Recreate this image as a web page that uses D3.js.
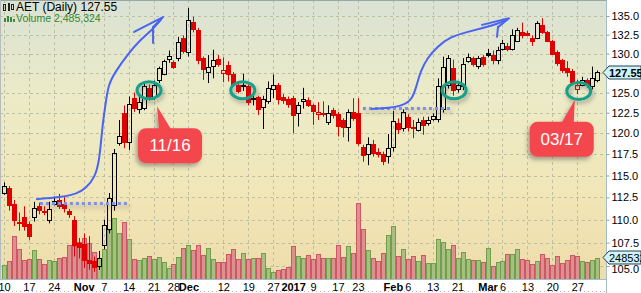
<!DOCTYPE html>
<html>
<head>
<meta charset="utf-8">
<script src="https://cdn.jsdelivr.net/npm/d3@7"></script>
<style>
body { margin: 0; background: #fff; }
svg { display: block; font-family: Arial, "Liberation Sans", sans-serif; }
</style>
</head>
<body>
<div id="chart"></div>
<script>
// AET daily, Oct 10 2016 .. Mar 31 2017, one entry per trading day
var open = [113.0,113.6,111.8,109.8,110.3,109.5,110.3,111.5,111.0,110.0,
	111.8,112.2,111.8,111.0,110.0,107.5,107.4,105.6,105.5,105.0,
	107.2,109.0,111.6,118.8,122.5,118.9,124.3,123.0,123.1,125.6,
	124.4,126.6,127.4,129.3,128.9,129.4,132.0,130.2,134.2,133.1,
	129.4,127.6,128.4,129.3,127.5,128.5,127.4,126.0,125.9,125.8,
	124.3,124.4,123.2,124.0,125.5,126.0,124.4,124.2,124.3,122.4,
	123.9,124.1,123.4,122.3,122.5,121.4,122.8,122.3,121.6,120.8,
	122.6,122.4,118.3,117.5,118.7,117.8,117.5,117.3,118.3,121.2,
	120.6,122.0,120.8,120.4,121.6,121.2,121.7,121.7,123.0,126.0,
	128.1,125.4,125.8,129.0,129.4,128.4,129.5,130.1,129.8,129.2,
	130.6,131.0,130.6,131.7,132.9,132.7,132.0,132.1,133.8,132.9,
	131.6,130.2,129.1,128.1,127.7,125.4,126.0,126.6,125.8,126.6];
var high = [114.2,113.8,112.2,110.8,111.5,109.8,112.0,111.9,111.5,112.0,
	112.6,112.9,112.6,111.2,110.4,108.0,108.5,108.2,106.0,106.6,
	110.0,113.0,118.1,121.6,123.4,124.5,125.0,124.6,126.2,126.0,
	126.5,128.3,129.2,130.4,129.1,132.2,132.4,136.1,134.9,133.4,
	129.6,129.8,130.5,129.8,129.5,129.0,127.6,126.2,127.4,126.0,
	124.8,124.6,124.6,126.4,127.3,126.2,124.8,124.5,124.6,123.8,
	125.6,124.4,123.6,123.8,123.9,123.4,123.1,122.6,121.8,122.9,
	124.3,124.3,118.6,119.5,119.2,118.2,117.8,119.9,122.7,121.8,
	122.9,122.3,121.6,121.8,122.0,122.0,122.4,126.8,129.6,129.8,
	129.2,126.4,129.4,130.0,129.6,129.7,129.8,130.6,130.4,130.9,
	131.8,131.4,133.2,133.4,134.1,133.0,132.4,134.3,134.7,133.0,
	131.8,130.4,129.3,129.0,128.0,126.6,127.0,126.8,128.3,127.8];
var low = [112.8,111.0,109.3,108.8,108.8,107.8,109.8,110.6,110.5,109.6,
	111.6,111.2,110.8,110.2,106.0,105.8,104.8,104.6,104.4,104.6,
	106.8,108.5,111.0,118.5,118.2,118.0,122.6,122.4,122.8,124.0,
	124.1,126.2,127.2,128.8,128.0,129.0,130.0,129.6,132.8,128.6,
	126.6,126.2,126.8,128.3,126.3,126.4,125.8,124.9,125.2,123.4,
	123.4,122.2,120.5,123.6,124.3,123.5,123.6,123.1,120.0,120.8,
	123.0,123.2,121.0,121.6,122.0,121.0,121.8,119.6,119.5,119.0,
	121.5,118.5,116.6,116.2,117.2,117.1,116.2,116.4,117.8,119.9,
	120.2,120.2,119.4,120.2,119.8,120.9,121.5,121.3,122.5,125.5,
	124.6,125.0,125.3,128.8,128.3,128.0,128.3,129.5,128.6,128.6,
	130.4,130.3,130.4,131.5,132.0,132.3,131.0,131.9,132.6,131.5,
	129.8,128.4,127.5,127.0,125.9,124.8,125.8,125.6,125.4,126.3];
var close = [113.8,111.6,110.0,109.6,109.3,108.2,111.3,111.1,110.9,111.2,
	112.1,111.5,111.3,110.6,107.2,107.0,105.6,105.3,104.9,105.8,
	109.4,112.4,117.6,119.6,118.9,123.6,123.1,123.8,125.8,124.4,
	126.0,128.1,129.0,129.7,128.2,131.5,130.3,134.5,133.2,129.2,
	128.0,128.2,129.2,128.6,127.9,127.4,126.1,125.2,125.8,123.8,
	124.2,123.0,124.2,125.6,126.0,124.2,124.1,123.6,122.2,123.5,
	124.2,123.5,122.7,122.6,122.3,122.4,122.2,120.9,120.8,122.6,
	121.9,118.8,117.4,118.7,117.6,117.5,116.7,118.2,121.5,120.5,
	122.6,120.7,120.6,121.4,121.0,121.6,122.1,125.8,128.2,129.4,
	125.3,126.0,128.6,129.6,128.6,129.4,128.6,129.8,129.2,130.5,
	131.4,130.6,132.4,133.1,132.5,132.4,131.7,134.0,132.8,131.7,
	130.0,128.8,127.9,127.6,126.3,126.0,126.6,125.9,126.8,127.55];
// volume, millions of shares
var volume = [1.7,2.2,5.2,3.6,2.3,2.4,3.5,2.4,1.8,2.3,
	2.2,2.5,2.7,4.1,4.0,4.5,5.0,4.4,3.3,2.6,
	3.6,5.9,7.4,5.6,6.9,4.9,2.4,2.3,2.5,2.8,
	2.4,2.7,2.1,1.3,1.8,2.7,3.8,4.1,3.5,4.1,
	2.9,3.8,2.4,2.0,2.0,3.0,3.6,2.4,3.2,2.4,
	2.6,2.6,3.2,1.3,0.9,1.1,1.2,1.5,4.0,2.8,
	2.5,2.85,2.4,3.0,2.6,2.6,2.6,4.1,2.7,4.0,
	3.2,9.2,6.1,3.5,2.5,2.2,3.2,5.3,6.4,2.8,
	3.6,2.4,2.8,2.2,2.9,1.9,1.9,4.9,4.5,3.6,
	4.1,2.6,3.3,2.4,2.25,2.25,2.1,3.7,1.6,2.0,
	2.2,3.0,3.0,3.6,2.4,2.25,1.8,2.2,3.0,2.6,
	1.65,2.8,1.9,2.3,2.85,2.8,2.2,2.0,2.25,2.485324];

var tickDays = [0,5,10,16,20,25,30,34,37,44,49,54,58,62,67,71,78,81,86,91,97,100,105,110,115];
var tickLabels = ["10","17","24","Nov","7","14","21","28","Dec","12","19","27","2017","9","17","23","Feb","6","13","21","Mar","6","13","20","27"];
var boldLabels = ["Nov","Dec","2017","Feb","Mar"];
var priceTicks = [105,107.5,110,112.5,115,117.5,120,122.5,125,127.5,130,132.5,135];

// hand drawn marks on the chart, in (day index, price)
var arrowA = [[6.6,112.3],[11.2,112.5],[14.6,112.9],[16.3,113.45],[18.3,114.8],[19.1,116.8],[19.5,119.2],[19.9,121.6],[20.3,123.2],[20.9,126.0],[22.3,127.6],[24.7,129.8],[27.3,131.8],[29.7,133.1],[31.5,134.5]];
var arrowAHead = [[26.1,132.85],[31.9,134.86],[29.9,133.5],[29.9,131.4]];
var arrowB = [[73.8,122.95],[77.4,123.1],[79.4,123.3],[80.8,123.7],[81.9,124.2],[82.9,126.1],[83.5,127.6],[84.9,129.4],[86.9,130.9],[89.5,132.2],[92.9,132.85],[96.1,133.4],[98.9,133.9],[100.9,134.5]];
var arrowBHead = [[95.9,133.8],[101.3,134.7],[99.1,133.5],[98.9,132.2]];
var baseLines = [[[7.2,111.8],[24.9,111.8]], [[72.0,123.0],[89.5,123.0]]];
var circled = [[29.1,125.3],[47.9,125.3],[90.3,125.3],[115.3,125.2]];
var callouts = [{text: "11/16", at: [30.7,123.3], dx: -19}, {text: "03/17", at: [114.5,124.1], dx: -45}];

var width = 641, height = 293;
var plotRight = 606, plotBottom = 279;

var x = d3.scaleLinear().domain([0, 119]).range([4, 597.2]);
var y = d3.scaleLog().domain([105, 135]).range([266, 16]);
var yv = d3.scaleLinear().domain([0, d3.max(volume)]).range([plotBottom, 203]);
var px = function(d){ return [x(d[0]), y(d[1])]; };

var svg = d3.select('#chart').append('svg')
	.attr('width', width)
	.attr('height', height);
var defs = svg.append('defs');
var grad = defs.append('linearGradient').attr('id', 'bg').attr('x1', 0).attr('y1', 0).attr('x2', 0).attr('y2', 1);
grad.append('stop').attr('offset', 0).attr('stop-color', '#dae2d4');
grad.append('stop').attr('offset', 0.35).attr('stop-color', '#ecebc7');
grad.append('stop').attr('offset', 0.7).attr('stop-color', '#f1e6b7');
grad.append('stop').attr('offset', 1).attr('stop-color', '#eedcaa');
defs.append('clipPath').attr('id', 'clip').append('rect')
	.attr('x', 0).attr('y', 1).attr('width', plotRight).attr('height', plotBottom - 1);
// shadows in user space so flat lines keep their filter region
function dropShadow(id, dx, dy){
	defs.append('filter').attr('id', id).attr('filterUnits', 'userSpaceOnUse')
		.attr('x', 0).attr('y', 0).attr('width', width).attr('height', height)
		.append('feDropShadow').attr('dx', dx).attr('dy', dy).attr('stdDeviation', 2)
		.attr('flood-color', '#444').attr('flood-opacity', 0.45);
}
dropShadow('shadow', 1.5, 3);
dropShadow('shadowL', -2, 3);

// plot background
svg.append('rect').attr('x', 0).attr('y', 1).attr('width', plotRight).attr('height', plotBottom - 1).attr('fill', 'url(#bg)');

// gridlines
svg.append('g').attr('class', 'grid')
	.call(d3.axisRight(y).tickValues(priceTicks).tickSize(plotRight).tickFormat(''));
svg.append('g').attr('class', 'grid')
	.attr('transform', 'translate(0,' + plotBottom + ')')
	.call(d3.axisBottom(x).tickValues(tickDays).tickSize(-(plotBottom - 1)).tickFormat(''));
svg.selectAll('.grid .domain').remove();
svg.selectAll('.grid line').attr('stroke', '#bfbfa4').attr('stroke-dasharray', '3,3').attr('shape-rendering', 'crispEdges');

var plot = svg.append('g').attr('clip-path', 'url(#clip)');
var idx = d3.range(close.length);
var up = function(i){ return i == 0 ? true : close[i] >= close[i - 1]; };
var cx = function(i){ return Math.round(x(i)); };

// volume
plot.append('g').selectAll('rect').data(idx).enter().append('rect')
	.attr('x', function(i){ return cx(i) - 1.5; })
	.attr('width', 4)
	.attr('y', function(i){ return Math.round(yv(volume[i])) + 0.5; })
	.attr('height', function(i){ return plotBottom - Math.round(yv(volume[i])); })
	.attr('fill', function(i){ return up(i) ? '#a8be82' : '#dc9090'; })
	.attr('stroke', function(i){ return up(i) ? '#71a04b' : '#cd5864'; })
	.attr('stroke-width', 1);

// candles
var color = function(i){ return up(i) ? '#000' : '#e00000'; };
var bodyTop = function(i){ return Math.round(y(Math.max(open[i], close[i]))); };
var bodyBot = function(i){ return Math.max(bodyTop(i) + 1, Math.round(y(Math.min(open[i], close[i])))); };
var candles = plot.append('g').selectAll('g').data(idx).enter().append('g');
candles.append('line')
	.attr('x1', function(i){ return cx(i) + 0.5; }).attr('x2', function(i){ return cx(i) + 0.5; })
	.attr('y1', function(i){ return y(high[i]); }).attr('y2', bodyTop)
	.attr('stroke', color);
candles.append('line')
	.attr('x1', function(i){ return cx(i) + 0.5; }).attr('x2', function(i){ return cx(i) + 0.5; })
	.attr('y1', bodyBot).attr('y2', function(i){ return y(low[i]); })
	.attr('stroke', color);
candles.append('rect')
	.attr('x', function(i){ return close[i] > open[i] ? cx(i) - 1.5 : cx(i) - 2; })
	.attr('width', function(i){ return close[i] > open[i] ? 4 : 5; })
	.attr('y', function(i){ return close[i] > open[i] ? bodyTop(i) + 0.5 : bodyTop(i); })
	.attr('height', function(i){ return close[i] > open[i] ? bodyBot(i) - bodyTop(i) : bodyBot(i) - bodyTop(i) + 1; })
	.attr('fill', function(i){ return close[i] > open[i] ? 'none' : color(i); })
	.attr('stroke', function(i){ return close[i] > open[i] ? color(i) : 'none'; });

// annotations
var curve = d3.line().x(function(d){ return x(d[0]); }).y(function(d){ return y(d[1]); }).curve(d3.curveBasis);
var straight = d3.line().x(function(d){ return x(d[0]); }).y(function(d){ return y(d[1]); });
var notes = plot.append('g');
baseLines.forEach(function(l){
	notes.append('path').attr('d', straight(l)).attr('stroke', '#7d8ef2').attr('stroke-width', 3)
		.attr('stroke-dasharray', '3,3').attr('fill', 'none').attr('filter', 'url(#shadow)');
});
[arrowA, arrowB].forEach(function(a){
	notes.append('path').attr('d', curve(a)).attr('stroke', '#4a64f4').attr('stroke-width', 2)
		.attr('fill', 'none').attr('stroke-linecap', 'round');
});
[arrowAHead, arrowBHead].forEach(function(h){
	notes.append('path').attr('d', straight(h.slice(0, 3))).attr('stroke', '#4a64f4').attr('stroke-width', 2)
		.attr('fill', 'none').attr('stroke-linejoin', 'round').attr('stroke-linecap', 'round');
	notes.append('path').attr('d', straight([h[2], h[3]])).attr('stroke', '#4a64f4').attr('stroke-width', 2)
		.attr('stroke-linecap', 'round');
});
notes.selectAll('ellipse').data(circled).enter().append('ellipse')
	.attr('cx', function(d){ return x(d[0]); }).attr('cy', function(d){ return y(d[1]); })
	.attr('rx', 12).attr('ry', 8.5)
	.attr('fill', 'none').attr('stroke', '#16a08a').attr('stroke-width', 3)
	.attr('filter', 'url(#shadow)');
callouts.forEach(function(c){
	var t = px(c.at);
	var g = notes.append('g').attr('filter', 'url(#shadowL)');
	var bx = t[0] + c.dx, by = t[1] + 22;
	g.append('rect').attr('x', bx).attr('y', by).attr('width', 64).attr('height', 35).attr('rx', 8)
		.attr('fill', '#f3474d');
	var tri = c.dx > -30 ? [[t[0], t[1]], [t[0] + 2, by + 1], [t[0] + 14, by + 1]] : [[t[0], t[1]], [t[0] - 13, by + 1], [t[0] - 1, by + 1]];
	g.append('path').attr('d', d3.line()(tri) + 'Z').attr('fill', '#f3474d');
	notes.append('text').attr('x', bx + 32).attr('y', by + 23).attr('text-anchor', 'middle')
		.attr('fill', '#fff').attr('font-size', 17).text(c.text);
});

// frame
svg.append('line').attr('x1', 0).attr('x2', plotRight).attr('y1', 0.5).attr('y2', 0.5).attr('stroke', '#9aa5a5');
svg.append('line').attr('x1', 0.5).attr('x2', 0.5).attr('y1', 0).attr('y2', plotBottom).attr('stroke', '#b4bcbc');
svg.append('line').attr('x1', 0).attr('x2', plotRight).attr('y1', plotBottom + 0.5).attr('y2', plotBottom + 0.5).attr('stroke', '#a6bcc8');
svg.append('line').attr('x1', plotRight + 0.5).attr('x2', plotRight + 0.5).attr('y1', 0).attr('y2', height).attr('stroke', '#a6bcc8');
svg.append('line').attr('x1', 0).attr('x2', plotRight).attr('y1', 291.5).attr('y2', 291.5).attr('stroke', '#aab8c4').attr('stroke-dasharray', '1,3');

// price axis; the close tag sits where the 127.5 label would be
var lastClose = close[close.length - 1];
var yAxis = svg.append('g').attr('transform', 'translate(' + (plotRight + 0.5) + ',0)')
	.call(d3.axisRight(y).tickValues(priceTicks).tickSize(3).tickPadding(2).tickFormat(d3.format('.1f')));
yAxis.select('.domain').remove();
yAxis.selectAll('line').attr('stroke', '#8aa4b0');
yAxis.selectAll('text').attr('font-size', 11).attr('font-family', 'Arial, "Liberation Sans", sans-serif').attr('fill', '#000');
yAxis.selectAll('.tick').filter(function(d){ return Math.abs(y(d) - y(lastClose)) < 8; }).select('text').remove();
yAxis.selectAll('.tick').filter(function(d){ return d == 105; }).select('text').attr('dy', '0.55em');

// date axis
var xAxis = svg.append('g').attr('transform', 'translate(0,' + plotBottom + ')')
	.call(d3.axisBottom(x).tickValues(tickDays).tickSize(0).tickPadding(4)
		.tickFormat(function(d, i){ return tickLabels[i]; }));
xAxis.select('.domain').remove();
xAxis.selectAll('text').attr('font-size', 11).attr('font-family', 'Arial, "Liberation Sans", sans-serif').attr('fill', '#000')
	.attr('font-weight', function(d, i){ return boldLabels.indexOf(tickLabels[i]) >= 0 ? 'bold' : 'normal'; });

// last value tags
function tag(yc, label, bold){
	yc = Math.round(yc);
	svg.append('path')
		.attr('d', 'M' + (plotRight - 3) + ',' + (yc + 0.5) + 'L' + (plotRight + 3) + ',' + (yc - 6) + 'L' + width + ',' + (yc - 6) +
			'L' + width + ',' + (yc + 7) + 'L' + (plotRight + 3) + ',' + (yc + 7) + 'Z')
		.attr('fill', '#cdf3fb').attr('stroke', '#24404e');
	svg.append('text').attr('x', plotRight + 3).attr('y', yc + 4.5).attr('font-size', 11)
		.attr('font-weight', bold ? 'bold' : 'normal').text(label);
}
tag(y(lastClose), '127.55', true);
tag(yv(volume[volume.length - 1]) - 1, '2485324', false);

// title
var title = svg.append('g');
title.append('rect').attr('x', 3.5).attr('y', 4.5).attr('width', 2).attr('height', 6).attr('fill', 'none').attr('stroke', '#222');
title.append('rect').attr('x', 8).attr('y', 3).attr('width', 2).attr('height', 8).attr('fill', '#222');
title.append('rect').attr('x', 11.5).attr('y', 4.5).attr('width', 2).attr('height', 5).attr('fill', 'none').attr('stroke', '#222');
title.append('text').attr('x', 16).attr('y', 11).attr('font-size', 12).attr('fill', '#000').text('AET (Daily) 127.55');
[[4, 4], [7, 6], [10, 5], [13, 3]].forEach(function(b){
	title.append('rect').attr('x', b[0]).attr('y', 22 - b[1]).attr('width', 2).attr('height', b[1]).attr('fill', '#3d8a3d');
});
title.append('text').attr('x', 16).attr('y', 22).attr('font-size', 10.5).attr('fill', '#2f8a2f').text('Volume 2,485,324');
</script>
</body>
</html>
